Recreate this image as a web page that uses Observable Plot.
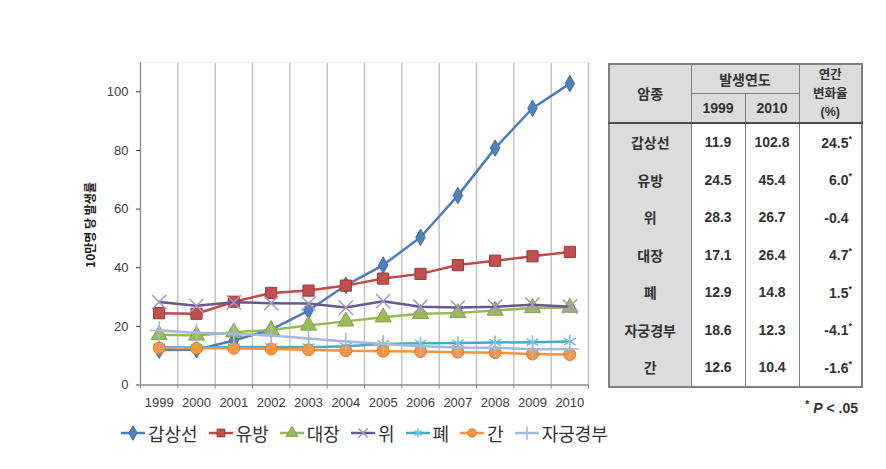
<!DOCTYPE html>
<html><head><meta charset="utf-8">
<script src="https://cdn.jsdelivr.net/npm/d3@7"></script>
<script src="https://cdn.jsdelivr.net/npm/@observablehq/plot@0.6"></script>
<style>
body{margin:0;background:#fff;}
#wrap{position:relative;width:886px;height:469px;overflow:hidden;background:#fff;font-family:"Liberation Sans","Noto Sans CJK KR",sans-serif;}
#chart{position:absolute;left:0;top:0;}
#ylabel{position:absolute;left:89px;top:225px;transform:translate(-50%,-50%) rotate(-90deg);font-weight:bold;font-size:12px;font-family:"Noto Sans CJK KR",sans-serif;white-space:nowrap;color:#222;}
#legend{position:absolute;left:120px;top:420px;display:flex;align-items:center;font-size:18px;font-family:"Noto Sans CJK KR",sans-serif;color:#333;}
.item{display:flex;align-items:center;margin-right:10px;}
.item svg{margin-right:2px;}
#tbl{position:absolute;left:608px;top:63px;border-collapse:collapse;table-layout:fixed;border:2px solid #808080;color:#333;font-weight:bold;font-size:14px;}
#tbl td,#tbl th{border-left:1.5px solid #808080;border-right:1.5px solid #808080;padding:0;text-align:center;}
#tbl th{background:#dcdcdc;font-weight:bold;}
#tbl td.k{background:#dcdcdc;font-family:"Noto Sans CJK KR",sans-serif;}
#tbl tr.h1 th{height:27px;}
#tbl tr.h2 th{height:26px;border-top:1.5px solid #808080;border-bottom:2.5px solid #4d4d4d;}
#tbl tr.d td{height:37.5px;}
#tbl td.r{text-align:right;padding-right:9px;}
.hk{font-family:"Noto Sans CJK KR",sans-serif;}
sup{font-size:9px;vertical-align:6px;}
#foot{position:absolute;right:28px;top:398px;font-weight:bold;font-size:14px;color:#333;}
#foot sup{font-size:11px;vertical-align:5px;}
</style></head>
<body>
<div id="wrap">
<div id="chart"></div>
<div id="ylabel">10만명 당 발생률</div>
<div id="legend"></div>
<table id="tbl"></table>
<div id="foot"><sup>*</sup> <i>P</i> &lt; .05</div>
</div>
<script>
const years = [1999, 2000, 2001, 2002, 2003, 2004, 2005, 2006, 2007, 2008, 2009, 2010];
const seriesNames = ["갑상선", "유방", "대장", "위", "폐", "간", "자궁경부"];
const thyroid    = [11.9, 12.0, 15.2, 18.9, 25.4, 34.0, 40.9, 50.4, 64.6, 80.8, 94.4, 102.8];
const breast     = [24.5, 24.3, 28.4, 31.4, 32.2, 33.9, 36.3, 37.9, 40.9, 42.4, 43.9, 45.4];
const colorectal = [17.1, 16.9, 18.0, 18.8, 20.3, 21.7, 23.1, 24.3, 24.6, 25.4, 26.3, 26.4];
const stomach    = [28.3, 27.0, 28.2, 27.9, 27.8, 26.4, 28.6, 26.7, 26.4, 26.7, 27.4, 26.7];
const lung       = [12.9, 12.8, 12.9, 13.0, 12.9, 13.2, 14.0, 14.2, 14.3, 14.5, 14.6, 14.8];
const liver      = [12.6, 12.5, 12.5, 12.3, 12.0, 11.7, 11.5, 11.4, 11.2, 11.0, 10.6, 10.4];
const cervix     = [18.6, 17.8, 17.4, 16.9, 15.9, 14.8, 14.0, 13.2, 12.8, 12.7, 12.2, 12.3];
const yTicks = [0, 20, 40, 60, 80, 100];

// table data
const tableCancers = ["갑상선", "유방", "위", "대장", "폐", "자궁경부", "간"];
const table1999 = ["11.9", "24.5", "28.3", "17.1", "12.9", "18.6", "12.6"];
const table2010 = ["102.8", "45.4", "26.7", "26.4", "14.8", "12.3", "10.4"];
const tableChange = ["24.5", "6.0", "-0.4", "4.7", "1.5", "-4.1", "-1.6"];
const tableSig = [true, true, false, true, true, true, true];

const styles = [
  {line:"#4a7ebb", fill:"#4f81bd", stroke:"#3f6fa8", symbol:"diamond", r:5, sw:1},
  {line:"#be4b48", fill:"#c0504d", stroke:"#9c3a37", symbol:"square", r:6.3, sw:1},
  {line:"#98b954", fill:"#9bbb59", stroke:"#84a347", symbol:"triangle", r:6, sw:1},
  {line:"#6a5890", fill:"none", stroke:"#a994c8", symbol:"times", r:6.5, sw:1.5},
  {line:"#46aac5", fill:"none", stroke:"#6cc3da", symbol:"asterisk", r:6.5, sw:1.5},
  {line:"#f69240", fill:"#f79646", stroke:"#e07e2e", symbol:"circle", r:6, sw:1},
  {line:"#a3b8e0", fill:"none", stroke:"#a3b8e0", symbol:"plus", r:6, sw:1.5}
];
const seriesValues = [thyroid, breast, colorectal, stomach, lung, liver, cervix];

const bounds = years.map(y => y - 0.5).concat([years[years.length - 1] + 0.5]);

const marks = [
  Plot.ruleX(bounds.slice(1), {stroke:"#c4c4c4", strokeWidth:1.5}),
  Plot.ruleY([110], {stroke:"#eeeeee", strokeWidth:1}),
  Plot.ruleX([bounds[0]], {stroke:"#8a8a8a", strokeWidth:1.3}),
  Plot.ruleY([0], {stroke:"#8a8a8a", strokeWidth:1.3}),
  Plot.axisY({ticks: yTicks, tickSize:4, tickPadding:8, label:null, color:"#404040"}),
  Plot.axisX({ticks: bounds, tickSize:4, tickFormat:() => "", label:null, color:"#8a8a8a"}),
  Plot.axisX({ticks: years, tickSize:0, tickPadding:13, tickFormat:d => String(d), label:null, color:"#404040"})
];
seriesNames.forEach((name, k) => {
  const s = styles[k];
  const d = years.map((yr, i) => ({year: yr, value: seriesValues[k][i]}));
  marks.push(Plot.line(d, {x:"year", y:"value", stroke:s.line, strokeWidth:2.5}));
  marks.push(Plot.dot(d, {x:"year", y:"value", symbol:s.symbol, r:s.r, fill:s.fill, stroke:s.stroke, strokeWidth:s.sw}));
});

const chart = Plot.plot({
  width: 600, height: 425,
  marginLeft: 140, marginRight: 12, marginTop: 62, marginBottom: 40.5,
  x: {type:"linear", domain:[bounds[0], bounds[bounds.length - 1]]},
  y: {domain:[0, 110]},
  style: {fontSize:"13px", fontFamily:"'Liberation Sans', Arial, sans-serif", background:"transparent"},
  marks
});
document.getElementById("chart").appendChild(chart);

// legend
const symMap = {diamond:d3.symbolDiamond, square:d3.symbolSquare, triangle:d3.symbolTriangle, times:d3.symbolTimes, asterisk:d3.symbolAsterisk, circle:d3.symbolCircle, plus:d3.symbolPlus};
const legend = d3.select("#legend");
seriesNames.forEach((name, k) => {
  const s = styles[k];
  const it = legend.append("div").attr("class", "item");
  const svg = it.append("svg").attr("width", 26).attr("height", 16);
  svg.append("line").attr("x1", 1).attr("x2", 25).attr("y1", 8).attr("y2", 8).attr("stroke", s.line).attr("stroke-width", 2.5);
  svg.append("path").attr("transform", "translate(13,8)")
    .attr("d", d3.symbol(symMap[s.symbol], 60)())
    .attr("fill", s.fill).attr("stroke", s.stroke).attr("stroke-width", s.sw);
  it.append("span").text(name);
});

// table
const tbl = d3.select("#tbl");
const cg = tbl.append("colgroup");
[82, 54, 54, 63].forEach(w => cg.append("col").style("width", w + "px"));
const h1 = tbl.append("tr").attr("class", "h1");
h1.append("th").attr("rowspan", 2).attr("class", "hk").style("border-bottom", "2.5px solid #4d4d4d").text("암종");
h1.append("th").attr("colspan", 2).attr("class", "hk").text("발생연도");
h1.append("th").attr("rowspan", 2).attr("class", "hk").style("border-bottom", "2.5px solid #4d4d4d").style("line-height", "18.5px").style("font-size", "12.5px").html("연간<br>변화율<br><span style='font-family:Liberation Sans'>(%)</span>");
const h2 = tbl.append("tr").attr("class", "h2");
h2.append("th").text("1999");
h2.append("th").text("2010");
tableCancers.forEach((c, i) => {
  const tr = tbl.append("tr").attr("class", "d");
  tr.append("td").attr("class", "k").text(c);
  tr.append("td").text(table1999[i]);
  tr.append("td").text(table2010[i]);
  tr.append("td").attr("class", "r").html(tableChange[i] + (tableSig[i] ? "<sup>*</sup>" : "<sup style='visibility:hidden'>*</sup>"));
});
</script>
</body></html>
